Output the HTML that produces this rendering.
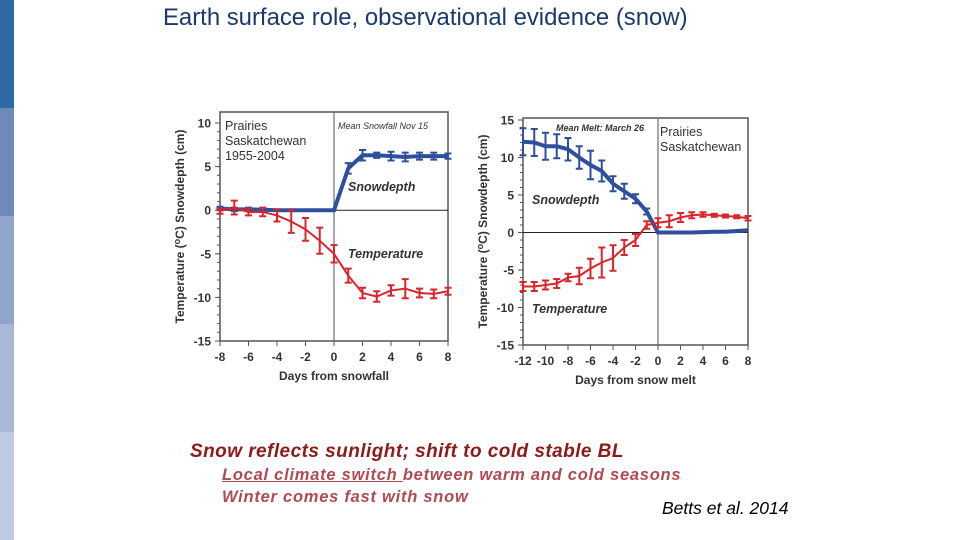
<!DOCTYPE html>
<html><head><meta charset="utf-8"><style>
body{margin:0;width:960px;height:540px;overflow:hidden;background:#fff;font-family:"Liberation Sans",sans-serif;position:relative}
.s{position:absolute;left:0;width:14px;height:108px}
.t{position:absolute;white-space:nowrap}
</style></head><body>
<div class="s" style="top:0;background:#2e6aa5"></div>
<div class="s" style="top:108px;background:#6d8ab8"></div>
<div class="s" style="top:216px;background:#8fa5cc"></div>
<div class="s" style="top:324px;background:#a9b8d6"></div>
<div class="s" style="top:432px;background:#bfc9e2"></div>
<div class="t" style="left:163px;top:4px;font-size:23.9px;color:#1a3a6e">Earth surface role, observational evidence (snow)</div>
<svg id="c" width="960" height="540" style="position:absolute;left:0;top:0"></svg>
<div class="t" style="left:190px;top:441px;font-size:19px;letter-spacing:0.45px;font-weight:bold;font-style:italic;color:#8e1a1a">Snow reflects sunlight; shift to cold stable BL</div>
<div class="t" style="left:222px;top:466px;font-size:16.5px;letter-spacing:0.75px;font-weight:bold;font-style:italic;color:#b04a55"><u>Local climate switch </u>between warm and cold seasons</div>
<div class="t" style="left:222px;top:488px;font-size:16.5px;letter-spacing:0.75px;font-weight:bold;font-style:italic;color:#b04a55">Winter comes fast with snow</div>
<div class="t" style="left:662px;top:498px;font-size:17.5px;font-style:italic;color:#000">Betts et al. 2014</div>
<script>
const days1=[-8,-7,-6,-5,-4,-3,-2,-1,0,1,2,3,4,5,6,7,8];
const snow1=[0.2,0.1,0.1,0.05,0,0,0,0,0,4.8,6.3,6.3,6.2,6.1,6.2,6.2,6.2];
const snow1Err=[0.2,0.2,0.2,0.1,0,0,0,0,0,0.6,0.6,0.3,0.5,0.5,0.4,0.4,0.3];
const temp1=[-0.1,0.3,-0.2,-0.2,-0.6,-1.3,-2.2,-3.5,-5,-7.5,-9.5,-9.9,-9.2,-9,-9.5,-9.6,-9.3];
const temp1Err=[0.3,0.8,0.4,0.5,0.7,1.3,1.3,1.5,1,0.8,0.6,0.6,0.6,1.1,0.5,0.5,0.4];
const days2=[-12,-11,-10,-9,-8,-7,-6,-5,-4,-3,-2,-1,0,1,2,3,4,5,6,7,8];
const snow2=[12.1,12,11.5,11.5,11.1,10,9,8.2,6.5,5.5,4.5,2.8,0,0,0,0,0.05,0.1,0.1,0.2,0.3];
const snow2Err=[1.8,1.8,1.8,1.6,1.5,1.5,1.9,1.4,1,1,0.6,0.4,0,0,0,0,0,0,0,0,0];
const temp2=[-7.2,-7.2,-7,-6.8,-6,-5.8,-4.8,-4,-3.4,-2,-1,1,1.3,1.5,2,2.3,2.4,2.3,2.2,2.1,1.9];
const temp2Err=[0.6,0.6,0.6,0.6,0.5,1.1,1.3,2,1.7,1,0.8,0.5,0.6,0.8,0.6,0.4,0.3,0.2,0.2,0.2,0.3];
const yt1=[10,5,0,-5,-10,-15], xt1=[-8,-6,-4,-2,0,2,4,6,8];
const yt2=[15,10,5,0,-5,-10,-15], xt2=[-12,-10,-8,-6,-4,-2,0,2,4,6,8];
const svg=document.getElementById('c');const NS='http://www.w3.org/2000/svg';
function mk(t,a,p){const e=document.createElementNS(NS,t);for(const k in a)e.setAttribute(k,a[k]);(p||svg).appendChild(e);return e;}
function chart(o){
 const g=mk('g',{});
 
 
 const X=d=>o.x0+(d-o.dmin)*(o.x1-o.x0)/(o.dmax-o.dmin);
 const Y=v=>o.y0+(o.vmax-v)*(o.y1-o.y0)/(o.vmax-o.vmin);
 mk('rect',{x:o.x0,y:o.top,width:o.x1-o.x0,height:Y(o.vmin)-o.top,fill:'none',stroke:'#555','stroke-width':1.5},g);
 mk('line',{x1:o.x0,x2:o.x1,y1:Y(0),y2:Y(0),stroke:'#222'},g);
 mk('line',{x1:X(0),x2:X(0),y1:o.top,y2:Y(o.vmin),stroke:'#555'},g);
 o.yt.forEach(v=>{mk('line',{x1:o.x0-5,x2:o.x0,y1:Y(v),y2:Y(v),stroke:'#555'},g);
  const t=mk('text',{x:o.x0-9,y:Y(v)+4.5,'text-anchor':'end','font-size':12,'font-weight':'bold',fill:'#333'},g);t.textContent=v;
  
  });
 for(let v=o.vmin;v<o.vmax;v++)mk('line',{x1:o.x0-3,x2:o.x0,y1:Y(v),y2:Y(v),stroke:'#555'},g);
 o.xt.forEach(d=>{mk('line',{x1:X(d),x2:X(d),y1:Y(o.vmin),y2:Y(o.vmin)+5,stroke:'#555'},g);
  const t=mk('text',{x:X(d),y:Y(o.vmin)+20,'text-anchor':'middle','font-size':12,'font-weight':'bold',fill:'#333'},g);t.textContent=d;
  
  });
 const xl=mk('text',{x:(o.x0+o.x1)/2,y:Y(o.vmin)+39,'text-anchor':'middle','font-size':12,'font-weight':'bold',fill:'#333'},g);xl.textContent=o.xlab;
 
 
 const yl=mk('text',{transform:`translate(${o.x0-36},${(o.top+Y(o.vmin))/2}) rotate(-90)`,'text-anchor':'middle','font-size':12,'font-weight':'bold',fill:'#333'},g);
 yl.innerHTML='Temperature (<tspan font-size="9" dy="-4">o</tspan><tspan dy="4">C)</tspan>   Snowdepth (cm)';
 
 
 function series(days,vals,errs,col,w,name){
  const p=mk('polyline',{points:days.map((d,i)=>X(d)+','+Y(vals[i])).join(' '),fill:'none',stroke:col,'stroke-width':w},g);
  
  
  days.forEach((d,i)=>{if(errs[i]<=0)return;const x=X(d),a=Y(vals[i]+errs[i]),b=Y(vals[i]-errs[i]);
   mk('path',{d:`M${x},${a}V${b}M${x-3.5},${a}H${x+3.5}M${x-3.5},${b}H${x+3.5}`,stroke:col,'stroke-width':2,fill:'none'},g);});
 }
 series(o.days,o.snow,o.snowErr,'#2f4f9e',4,'snowdepth');
 series(o.days,o.temp,o.tempErr,'#d8262c',2,'temperature');
 o.labels.forEach(l=>{const t=mk('text',{x:l[0],y:l[1],'font-size':l[3],'font-style':l[4]||'normal','font-weight':l[5]||'normal',fill:'#333'},g);t.textContent=l[2];
  
  });
}
chart({name:'snowfall-chart',x0:220,x1:448,y0:123,y1:341,top:112,vmin:-15,vmax:10,dmin:-8,dmax:8,yt:yt1,xt:xt1,days:days1,snow:snow1,snowErr:snow1Err,temp:temp1,tempErr:temp1Err,xlab:'Days from snowfall',
 labels:[[225,130,'Prairies',12.5],[225,145,'Saskatchewan',12.5],[225,160,'1955-2004',12.5],[338,129,'Mean Snowfall Nov 15',9,'italic'],[348,191,'Snowdepth',12.5,'italic','bold'],[348,258,'Temperature',12.5,'italic','bold']]});
chart({name:'snowmelt-chart',x0:523,x1:748,y0:120,y1:345,top:118,vmin:-15,vmax:15,dmin:-12,dmax:8,yt:yt2,xt:xt2,days:days2,snow:snow2,snowErr:snow2Err,temp:temp2,tempErr:temp2Err,xlab:'Days from snow melt',
 labels:[[556,131,'Mean Melt: March 26',9,'italic','bold'],[660,136,'Prairies',12.5],[660,151,'Saskatchewan',12.5],[532,204,'Snowdepth',12.5,'italic','bold'],[532,313,'Temperature',12.5,'italic','bold']]});
</script>
</body></html>
